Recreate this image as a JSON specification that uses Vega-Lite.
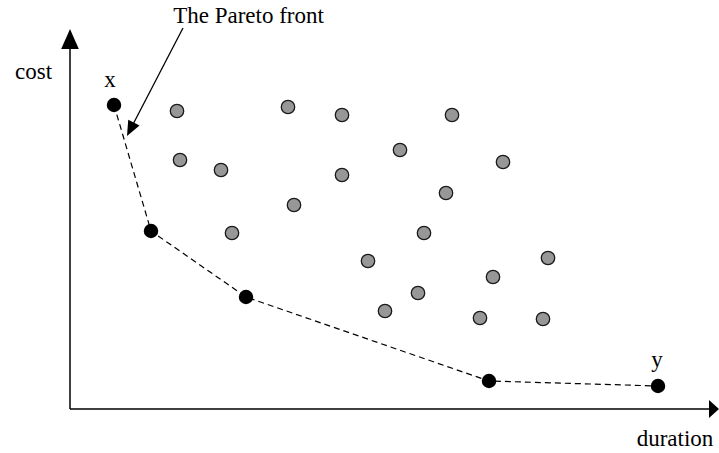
{
  "$schema": "https://vega.github.io/schema/vega-lite/v6.json",
  "width": 719,
  "height": 453,
  "autosize": {"type": "none"},
  "padding": 0,
  "background": "white",
  "config": {"view": {"stroke": null}, "font": "Times New Roman, Liberation Serif, DejaVu Serif, serif"},
  "encoding": {
    "x": {"field": "duration", "type": "quantitative", "scale": {"domain": [-70, 649], "nice": false, "zero": false}, "axis": null},
    "y": {"field": "cost", "type": "quantitative", "scale": {"domain": [-44, 409], "nice": false, "zero": false}, "axis": null}
  },
  "layer": [
    {
      "data": {"values": [
        {"duration": 0, "cost": 0, "duration2": 0, "cost2": 360},
        {"duration": 0, "cost": 0, "duration2": 639, "cost2": 0}
      ]},
      "mark": {"type": "rule", "color": "black", "strokeWidth": 1.5},
      "encoding": {"x2": {"field": "duration2"}, "y2": {"field": "cost2"}}
    },
    {
      "data": {"values": [{"duration": 0, "cost": 370}]},
      "mark": {"type": "point", "shape": "M0,-1L0.88,1L-0.88,1Z", "size": 400, "filled": true, "color": "black", "opacity": 1}
    },
    {
      "data": {"values": [{"duration": 649, "cost": 0}]},
      "mark": {"type": "point", "shape": "M0,0L-1,0.9L-1,-0.9Z", "size": 400, "filled": true, "color": "black", "opacity": 1}
    },
    {
      "data": {"values": [
        {"duration": 113, "cost": 381, "duration2": 59, "cost2": 277}
      ]},
      "mark": {"type": "rule", "color": "black", "strokeWidth": 1.3},
      "encoding": {"x2": {"field": "duration2"}, "y2": {"field": "cost2"}}
    },
    {
      "data": {"values": [{"duration": 57, "cost": 273}]},
      "mark": {"type": "point", "shape": "M0,0L0.85,2L-0.85,2Z", "size": 225, "angle": 207.4, "filled": true, "color": "black", "opacity": 1}
    },
    {
      "data": {"values": [
        {"duration": 107, "cost": 298}, {"duration": 218, "cost": 302}, {"duration": 272, "cost": 294}, {"duration": 382, "cost": 294},
        {"duration": 110, "cost": 249}, {"duration": 151, "cost": 239}, {"duration": 330, "cost": 259}, {"duration": 272, "cost": 234},
        {"duration": 433, "cost": 247}, {"duration": 376, "cost": 216}, {"duration": 224, "cost": 204}, {"duration": 162, "cost": 176},
        {"duration": 354, "cost": 176}, {"duration": 298, "cost": 148}, {"duration": 478, "cost": 151}, {"duration": 423, "cost": 132},
        {"duration": 348, "cost": 116}, {"duration": 315, "cost": 98}, {"duration": 410, "cost": 91}, {"duration": 473, "cost": 90}
      ]},
      "mark": {"type": "point", "shape": "circle", "size": 180, "filled": true, "fill": "#979797", "stroke": "#1a1a1a", "strokeWidth": 1.3, "opacity": 1}
    },
    {
      "data": {"values": [
        {"duration": 44, "cost": 304}, {"duration": 81, "cost": 178}, {"duration": 176, "cost": 112}, {"duration": 419, "cost": 28}, {"duration": 588, "cost": 23}
      ]},
      "layer": [
        {"mark": {"type": "line", "color": "black", "strokeWidth": 1.2, "strokeDash": [6, 4]}, "encoding": {"order": {"field": "duration"}}},
        {"mark": {"type": "point", "shape": "circle", "size": 210, "filled": true, "color": "black", "opacity": 1}}
      ]
    },
    {
      "data": {"values": [
        {"duration": -36.5, "cost": 330, "label": "cost"},
        {"duration": 40, "cost": 322, "label": "x"},
        {"duration": 178.5, "cost": 386, "label": "The Pareto front"},
        {"duration": 587, "cost": 42, "label": "y"},
        {"duration": 605, "cost": -37, "label": "duration"}
      ]},
      "mark": {"type": "text", "font": "Times New Roman, Liberation Serif, DejaVu Serif, serif", "fontSize": 23, "align": "center", "baseline": "alphabetic", "color": "black"},
      "encoding": {"text": {"field": "label"}}
    }
  ]
}
